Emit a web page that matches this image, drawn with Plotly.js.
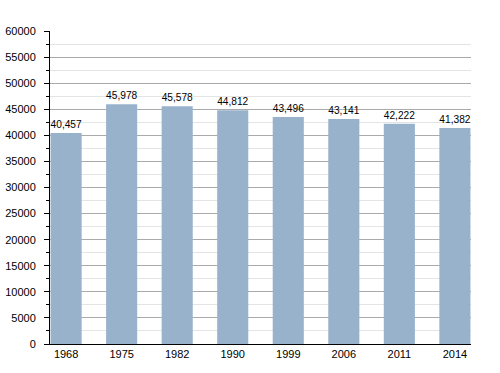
<!DOCTYPE html>
<html><head><meta charset="utf-8">
<script src="https://cdn.plot.ly/plotly-3.0.1.min.js"></script>
<style>html,body{margin:0;padding:0;background:#fff}#c{width:500px;height:373px}</style>
</head><body><div id="c"></div>
<script>
const years = ['1968','1975','1982','1990','1999','2006','2011','2014'];
const population = [40457, 45978, 45578, 44812, 43496, 43141, 42222, 41382];
const labels = ['40,457','45,978','45,578','44,812','43,496','43,141','42,222','41,382'];

Plotly.newPlot('c', [{
  type: 'bar',
  x: years,
  y: population,
  text: labels,
  textposition: 'outside',
  cliponaxis: false,
  textfont: {family: 'Liberation Sans, Arial, sans-serif', size: 11, color: '#000'},
  marker: {color: '#98b2cc'},
  width: 0.56,
  hoverinfo: 'none'
}], {
  width: 500, height: 373,
  margin: {l: 50, r: 29, t: 31, b: 29},
  paper_bgcolor: '#fff', plot_bgcolor: '#fff',
  showlegend: false,
  font: {family: 'Liberation Sans, Arial, sans-serif', size: 11, color: '#000'},
  xaxis: {
    type: 'category',
    range: [-0.29, 7.29],
    showgrid: false,
    showline: true, linecolor: '#000', linewidth: 1,
    ticks: '', ticklen: 0,
    tickfont: {size: 11, color: '#000'},
    fixedrange: true
  },
  yaxis: {
    range: [0, 60000],
    dtick: 5000,
    tick0: 0,
    tickformat: 'd',
    showgrid: true, gridcolor: '#aaaaaa', gridwidth: 1,
    zeroline: false,
    showline: true, linecolor: '#000', linewidth: 1,
    ticks: 'outside', ticklen: 5, tickcolor: '#000',
    ticklabelstandoff: 6,
    tickfont: {size: 11, color: '#000'},
    minor: {dtick: 2500, ticks: 'outside', ticklen: 3, tickcolor: '#000', showgrid: true, gridcolor: '#e4e4e4', gridwidth: 1},
    fixedrange: true
  },
  bargap: 0.44
}, {displayModeBar: false, staticPlot: true});
</script></body></html>
